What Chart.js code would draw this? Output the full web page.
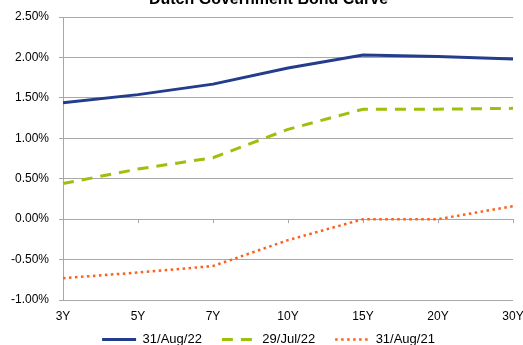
<!DOCTYPE html>
<html>
<head>
<meta charset="utf-8">
<script src="https://cdn.jsdelivr.net/npm/chart.js@4"></script>
<style>
  html, body { margin: 0; padding: 0; background: #fff; }
  #wrap { width: 523px; height: 345px; }
</style>
</head>
<body>
<div id="wrap"><canvas id="bondChart"></canvas></div>
<script>
// maturities
const labels = ["3Y", "5Y", "7Y", "10Y", "15Y", "20Y", "30Y"];

// yields in %
const aug22 = [1.44, 1.54, 1.67, 1.87, 2.03, 2.01, 1.98];
const jul22 = [0.44, 0.62, 0.76, 1.11, 1.36, 1.36, 1.37];
const aug21 = [-0.73, -0.66, -0.58, -0.26, 0.00, 0.00, 0.16];

const seriesNames = ["31/Aug/22", "29/Jul/22", "31/Aug/21"];

// axis
const yMin = -1.0;
const yMax = 2.5;
const yStep = 0.5;

const gridColor = "#A8A8A8";
const font = "'Liberation Sans', Arial, sans-serif";

// small tick marks on the zero line, like excel does
const zeroTicks = {
  id: "zeroTicks",
  beforeDatasetsDraw(chart) {
    const x = chart.scales.x, y = chart.scales.y;
    const y0 = y.getPixelForValue(0);
    const c = chart.ctx;
    c.save();
    c.strokeStyle = gridColor;
    c.lineWidth = 1;
    c.beginPath();
    for (let i = 0; i < labels.length; i++) {
      const px = Math.round(x.getPixelForTick(i)) + 0.5;
      c.moveTo(px, y0);
      c.lineTo(px, y0 + 4);
    }
    c.stroke();
    c.restore();
  }
};

// legend samples: keep the dash of each dataset
function legendLabels(chart) {
  const items = Chart.defaults.plugins.legend.labels.generateLabels(chart);
  items.forEach(function (it) {
    const ds = chart.data.datasets[it.datasetIndex];
    it.lineDash = ds.borderDash || [];
    it.lineWidth = ds.borderWidth;
    it.strokeStyle = ds.borderColor;
    it.lineCap = "butt";
  });
  return items;
}

// tick labels are not clipped to the scale box
function noLabelClip(s) {
  s._computeLabelArea = () => undefined;
}

const ctx = document.getElementById("bondChart").getContext("2d");

new Chart(ctx, {
  type: "line",
  data: {
    labels: labels,
    datasets: [
      {
        label: seriesNames[0],
        data: aug22,
        borderColor: "#233D8C",
        backgroundColor: "#233D8C",
        borderWidth: 3,
        pointRadius: 0,
        pointStyle: "line"
      },
      {
        label: seriesNames[1],
        data: jul22,
        borderColor: "#9DC00C",
        backgroundColor: "#9DC00C",
        borderWidth: 3,
        borderDash: [11, 8],
        pointRadius: 0,
        pointStyle: "line"
      },
      {
        label: seriesNames[2],
        data: aug21,
        borderColor: "#FF5E1A",
        backgroundColor: "#FF5E1A",
        borderWidth: 2.5,
        borderDash: [2.5, 3.5],
        pointRadius: 0,
        pointStyle: "line"
      }
    ]
  },
  options: {
    responsive: true,
    maintainAspectRatio: false,
    animation: false,
    layout: { padding: { left: 24, right: 10, top: 0, bottom: -11 } },
    plugins: {
      title: {
        display: true,
        text: "Dutch Government Bond Curve",
        color: "#000",
        font: { family: font, size: 16, weight: "bold" },
        padding: { top: -10, bottom: 7.8 }
      },
      legend: {
        position: "bottom",
        labels: {
          usePointStyle: true,
          pointStyleWidth: 34,
          boxHeight: 12,
          padding: 20,
          color: "#000",
          font: { family: font, size: 13 },
          generateLabels: legendLabels
        }
      },
      tooltip: { enabled: false }
    },
    scales: {
      x: {
        offset: false,
        grid: { display: false, drawTicks: false },
        border: { display: false },
        ticks: {
          color: "#000",
          padding: 9,
          autoSkip: false,
          maxRotation: 0,
          font: { family: font, size: 12 }
        },
        afterFit(s) { s.paddingLeft = 0; s.paddingRight = 0; s.height = 13; noLabelClip(s); }
      },
      y: {
        min: yMin,
        max: yMax,
        grid: { color: gridColor, tickLength: 4 },
        border: { color: gridColor },
        ticks: {
          stepSize: yStep,
          padding: 10,
          color: "#000",
          font: { family: font, size: 12 },
          callback: v => v.toFixed(2) + "%"
        },
        afterFit(s) { s.width = 39; s.paddingTop = 0; s.paddingBottom = 0; noLabelClip(s); }
      }
    }
  },
  plugins: [zeroTicks]
});
</script>
</body>
</html>
